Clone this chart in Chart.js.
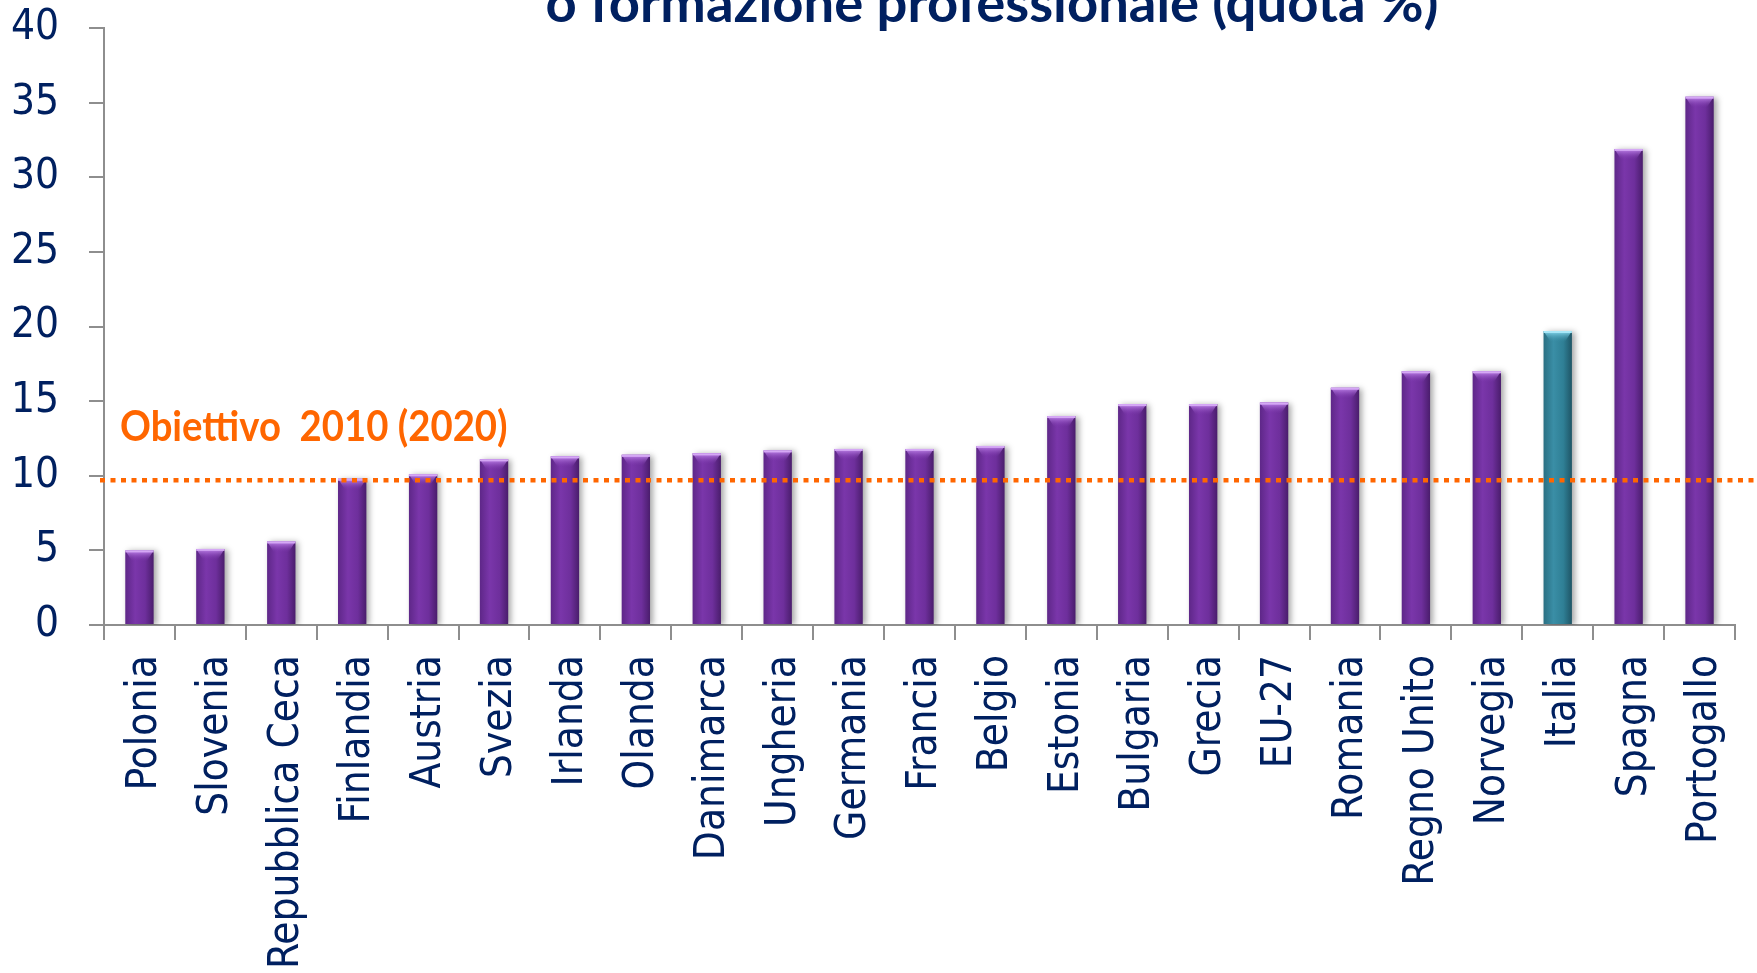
<!DOCTYPE html>
<html><head><meta charset="utf-8">
<script src="https://cdn.jsdelivr.net/npm/chart.js@4.4.1/dist/chart.umd.min.js"></script>
<style>html,body{margin:0;padding:0;background:#fff;overflow:hidden}#wrap{width:1757px;height:973px;position:relative}</style>
</head><body><div id="wrap"><canvas id="c" width="1757" height="973"></canvas></div>
<script>
const categories = ['Polonia','Slovenia','Repubblica Ceca','Finlandia','Austria','Svezia','Irlanda','Olanda','Danimarca','Ungheria','Germania','Francia','Belgio','Estonia','Bulgaria','Grecia','EU-27','Romania','Regno Unito','Norvegia','Italia','Spagna','Portogallo'];
const values = [5.0,5.1,5.6,9.8,10.1,11.1,11.3,11.4,11.5,11.7,11.8,11.8,12.0,14.0,14.8,14.8,14.9,15.9,17.0,17.0,19.7,31.9,35.4];
const highlightCategory = 'Italia';
const yMin = 0, yMax = 40, yStep = 5;
const targetValue = 9.7;
const targetLabel = 'Obiettivo  2010 (2020)';
const titleText = 'o formazione professionale (quota %)';

const NAVY = '#002060';
const AXIS = '#8e8e8e';
const ORANGE = '#FF6600';
const TICK_FONT = { family: '"DejaVu Sans Condensed", "DejaVu Sans"', size: 42 };

function barFill(ctx) {
  const chart = ctx.chart;
  const isHi = categories[ctx.dataIndex] === highlightCategory;
  const base = isHi ? '#31859c' : '#7030a0';
  if (!chart.chartArea) return base;
  const xs = chart.scales.x;
  const cx = xs.getPixelForValue(ctx.dataIndex);
  const half = xs.width / categories.length * 0.2;
  const g = chart.ctx.createLinearGradient(cx - half, 0, cx + half, 0);
  if (isHi) {
    g.addColorStop(0, '#2a6f82');
    g.addColorStop(0.35, '#3a8ea6');
    g.addColorStop(0.7, '#2f7f95');
    g.addColorStop(1, '#1f5566');
  } else {
    g.addColorStop(0, '#5e2788');
    g.addColorStop(0.35, '#7a36aa');
    g.addColorStop(0.7, '#6e2f9c');
    g.addColorStop(1, '#4a1d6c');
  }
  return g;
}

const barStyle = {
  id: 'barStyle',
  beforeDatasetsDraw(chart) {
    const c = chart.ctx;
    c.save();
    c.shadowColor = 'rgba(0,0,0,0.35)';
    c.shadowBlur = 6;
    c.shadowOffsetX = 3;
    c.shadowOffsetY = 1;
  },
  afterDatasetsDraw(chart) {
    const c = chart.ctx;
    c.restore();
    const meta = chart.getDatasetMeta(0);
    meta.data.forEach((bar, i) => {
      const p = bar.getProps(['x', 'y', 'width'], true);
      const isHi = categories[i] === highlightCategory;
      const l = p.x - p.width / 2, r = p.x + p.width / 2;
      const g = c.createLinearGradient(0, p.y, 0, p.y + 11);
      g.addColorStop(0, isHi ? '#8fe0f5' : '#c68cf0');
      g.addColorStop(1, isHi ? 'rgba(58,142,166,0)' : 'rgba(122,54,170,0)');
      c.save();
      c.fillStyle = g;
      c.beginPath();
      c.moveTo(l, p.y);
      c.lineTo(r, p.y);
      c.lineTo(r - p.width * 0.25, p.y + 11);
      c.lineTo(l + p.width * 0.25, p.y + 11);
      c.closePath();
      c.fill();
      c.fillStyle = isHi ? '#a8e8f8' : '#d5a8f5';
      c.fillRect(l, p.y, p.width, 2);
      c.restore();
    });
  }
};

const overlay = {
  id: 'overlay',
  afterDraw(chart) {
    const c = chart.ctx;
    const ys = chart.scales.y;
    const ty = ys.getPixelForValue(targetValue);
    c.save();
    c.strokeStyle = ORANGE;
    c.lineWidth = 4.5;
    c.setLineDash([5, 5.5]);
    c.beginPath();
    c.moveTo(chart.chartArea.left - 4, ty);
    c.lineTo(chart.width, ty);
    c.stroke();
    c.setLineDash([]);
    // target label
    c.fillStyle = ORANGE;
    c.textBaseline = 'alphabetic';
    c.textAlign = 'left';
    c.font = 'bold 100px Lato';
    let w = c.measureText(targetLabel).width;
    let fs = 100 * 388 / w;
    c.font = 'bold ' + fs.toFixed(1) + 'px Lato';
    c.save();
    c.translate(120, ty - 39);
    c.scale(1, 1.08);
    c.fillText(targetLabel, 0, 0);
    c.restore();
    // title (second line, partly cut at top)
    c.fillStyle = NAVY;
    c.textAlign = 'center';
    c.textBaseline = 'alphabetic';
    c.font = 'bold 100px Lato';
    w = c.measureText(titleText).width;
    fs = 100 * 893 / w;
    c.font = 'bold ' + fs.toFixed(1) + 'px Lato';
    c.fillText(titleText, 992, 22);
    c.restore();
  }
};

new Chart(document.getElementById('c'), {
  type: 'bar',
  data: {
    labels: categories,
    datasets: [{
      data: values,
      backgroundColor: barFill,
      borderWidth: 0,
      barPercentage: 0.4,
      categoryPercentage: 1.0
    }]
  },
  options: {
    responsive: false,
    animation: false,
    devicePixelRatio: 1,
    layout: { padding: { top: 28, right: 22, bottom: 0, left: 0 } },
    plugins: { legend: { display: false }, tooltip: { enabled: false }, title: { display: false } },
    scales: {
      x: {
        offset: true,
        afterFit(scale) { scale.height = 348; scale.paddingLeft = 0; scale.paddingRight = 0; },
        grid: { display: true, drawOnChartArea: false, drawTicks: true, tickLength: 15, color: AXIS, lineWidth: 2, offset: true },
        border: { display: true, color: AXIS, width: 2 },
        ticks: { color: NAVY, font: TICK_FONT, minRotation: 90, maxRotation: 90, autoSkip: false, padding: 15, labelOffset: 6 }
      },
      y: {
        min: yMin, max: yMax,
        afterFit(scale) { scale.width = 104; scale.paddingTop = 0; scale.paddingBottom = 0; },
        grid: { display: true, drawOnChartArea: false, drawTicks: true, tickLength: 15, color: AXIS, lineWidth: 2 },
        border: { display: true, color: AXIS, width: 2 },
        ticks: { stepSize: yStep, color: NAVY, font: TICK_FONT, padding: 30 }
      }
    }
  },
  plugins: [barStyle, overlay]
});
</script>
</body></html>
